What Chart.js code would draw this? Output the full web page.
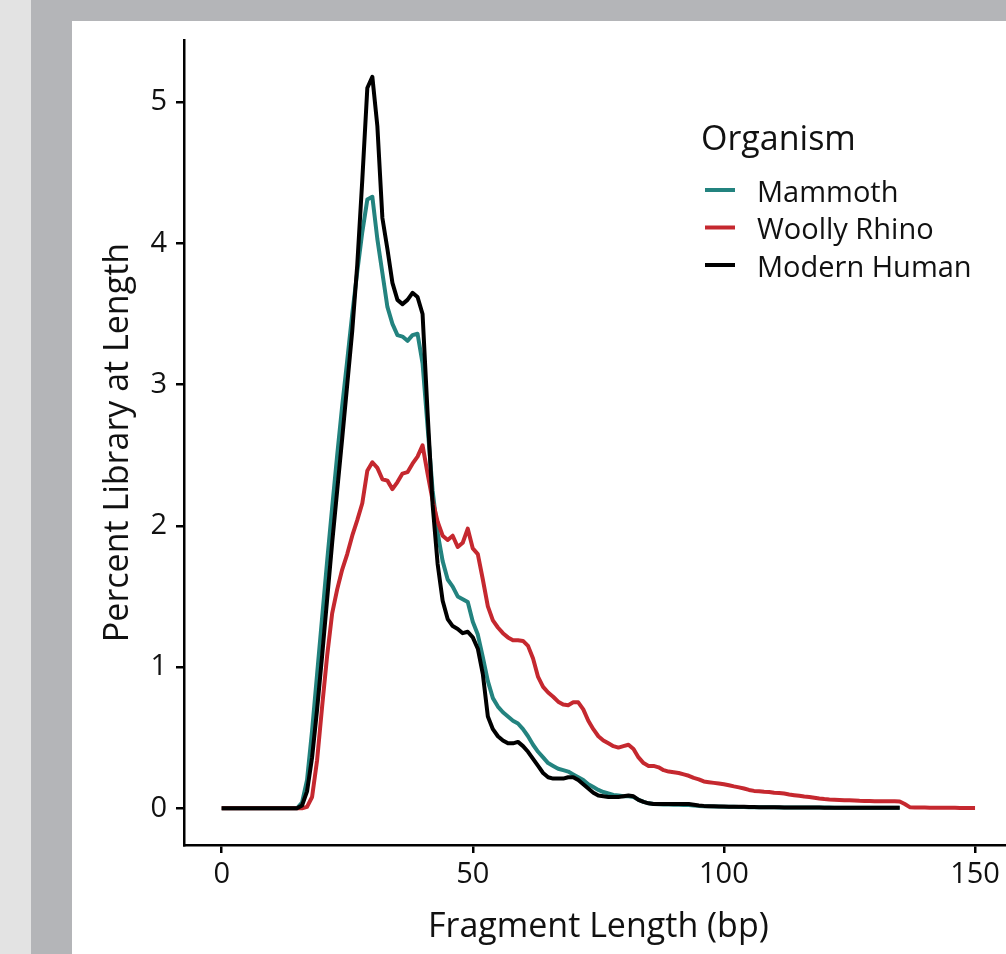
<!DOCTYPE html>
<html>
<head>
<meta charset="utf-8">
<title>Fragment length distribution</title>
<script src="https://cdn.jsdelivr.net/npm/chart.js@4.4.1/dist/chart.umd.min.js"></script>
<style>
  html, body { margin: 0; padding: 0; width: 1006px; height: 954px; overflow: hidden; background: #b4b5b8; }
  #strip { position: absolute; left: 0; top: 0; width: 31px; height: 954px; background: #e3e3e3; }
  #panel { position: absolute; left: 72px; top: 21px; width: 960px; height: 933px; background: #fff; }
  canvas { display: block; }
</style>
</head>
<body>
<div id="strip"></div>
<div id="panel"><canvas id="fragChart" width="960" height="933"></canvas></div>
<script>
// fragment length (bp) on the x axis
const fragmentLengths = [
  0, 1, 2, 3, 4, 5, 6, 7, 8, 9, 10, 11, 12, 13, 14, 15, 16, 17, 18, 19,
  20, 21, 22, 23, 24, 25, 26, 27, 28, 29, 30, 31, 32, 33, 34, 35, 36, 37, 38, 39,
  40, 41, 42, 43, 44, 45, 46, 47, 48, 49, 50, 51, 52, 53, 54, 55, 56, 57, 58, 59,
  60, 61, 62, 63, 64, 65, 66, 67, 68, 69, 70, 71, 72, 73, 74, 75, 76, 77, 78, 79,
  80, 81, 82, 83, 84, 85, 86, 87, 88, 89, 90, 91, 92, 93, 94, 95, 96, 97, 98, 99,
  100, 101, 102, 103, 104, 105, 106, 107, 108, 109, 110, 111, 112, 113, 114, 115, 116, 117, 118, 119,
  120, 121, 122, 123, 124, 125, 126, 127, 128, 129, 130, 131, 132, 133, 134, 135, 136, 137, 138, 139,
  140, 141, 142, 143, 144, 145, 146, 147, 148, 149, 150
];

// percent of library at each length (0..135)
const mammothPct = [
  0, 0, 0, 0, 0, 0, 0, 0, 0, 0, 0, 0, 0, 0, 0, 0, 0.04, 0.20, 0.55, 0.95,
  1.35, 1.75, 2.13, 2.50, 2.85, 3.17, 3.50, 3.80, 4.08, 4.31, 4.33, 4.03, 3.79, 3.55, 3.43, 3.35, 3.34, 3.31, 3.35, 3.36,
  3.15, 2.70, 2.25, 1.95, 1.75, 1.62, 1.57, 1.50, 1.48, 1.46, 1.32, 1.23, 1.07, 0.90, 0.78, 0.72, 0.68, 0.65, 0.62, 0.60,
  0.56, 0.51, 0.45, 0.40, 0.36, 0.32, 0.30, 0.28, 0.27, 0.26, 0.24, 0.22, 0.20, 0.17, 0.15, 0.13, 0.115, 0.105, 0.095, 0.09,
  0.085, 0.085, 0.08, 0.06, 0.045, 0.035, 0.03, 0.028, 0.027, 0.026, 0.025, 0.025, 0.024, 0.023, 0.02, 0.017, 0.015, 0.014, 0.013, 0.012,
  0.011, 0.010, 0.010, 0.009, 0.009, 0.008, 0.008, 0.008, 0.007, 0.007, 0.007, 0.006, 0.006, 0.006, 0.006, 0.006, 0.005, 0.005, 0.005, 0.005,
  0.005, 0.005, 0.004, 0.004, 0.004, 0.004, 0.004, 0.004, 0.003, 0.003, 0.003, 0.003, 0.003, 0.003, 0.003, 0.003
];

// percent of library at each length (0..150)
const rhinoPct = [
  0, 0, 0, 0, 0, 0, 0, 0, 0, 0, 0, 0, 0, 0, 0, 0, 0, 0.01, 0.08, 0.34,
  0.72, 1.08, 1.38, 1.55, 1.69, 1.80, 1.93, 2.04, 2.16, 2.39, 2.45, 2.41, 2.33, 2.32, 2.26, 2.31, 2.37, 2.38, 2.44, 2.49,
  2.57, 2.37, 2.18, 2.03, 1.93, 1.90, 1.93, 1.85, 1.88, 1.98, 1.84, 1.80, 1.62, 1.43, 1.33, 1.28, 1.24, 1.21, 1.19, 1.19,
  1.185, 1.15, 1.06, 0.93, 0.86, 0.82, 0.79, 0.755, 0.735, 0.73, 0.75, 0.75, 0.70, 0.62, 0.56, 0.51, 0.48, 0.46, 0.44, 0.43,
  0.44, 0.45, 0.42, 0.36, 0.32, 0.30, 0.30, 0.29, 0.27, 0.26, 0.255, 0.25, 0.24, 0.23, 0.215, 0.205, 0.19, 0.185, 0.18, 0.175,
  0.17, 0.163, 0.155, 0.148, 0.14, 0.13, 0.123, 0.12, 0.117, 0.115, 0.11, 0.108, 0.104, 0.098, 0.093, 0.088, 0.083, 0.08, 0.075, 0.07,
  0.066, 0.063, 0.061, 0.059, 0.057, 0.056, 0.055, 0.053, 0.052, 0.051, 0.05, 0.05, 0.05, 0.05, 0.05, 0.048, 0.03, 0.008, 0.006, 0.005,
  0.005, 0.004, 0.004, 0.004, 0.003, 0.003, 0.003, 0.002, 0.002, 0.002, 0.002
];

// percent of library at each length (0..135)
const humanPct = [
  0, 0, 0, 0, 0, 0, 0, 0, 0, 0, 0, 0, 0, 0, 0, 0, 0.02, 0.12, 0.36, 0.70,
  1.08, 1.48, 1.88, 2.25, 2.62, 3.00, 3.38, 3.85, 4.45, 5.10, 5.18, 4.83, 4.18, 3.96, 3.72, 3.60, 3.57, 3.60, 3.65, 3.62,
  3.50, 2.80, 2.15, 1.73, 1.47, 1.34, 1.29, 1.27, 1.24, 1.25, 1.21, 1.13, 0.95, 0.65, 0.56, 0.51, 0.48, 0.46, 0.46, 0.47,
  0.44, 0.40, 0.35, 0.30, 0.25, 0.22, 0.21, 0.21, 0.21, 0.22, 0.22, 0.20, 0.17, 0.14, 0.11, 0.09, 0.085, 0.08, 0.08, 0.08,
  0.085, 0.09, 0.085, 0.06, 0.045, 0.035, 0.03, 0.03, 0.03, 0.03, 0.03, 0.03, 0.03, 0.03, 0.025, 0.02, 0.017, 0.015, 0.014, 0.013,
  0.012, 0.011, 0.010, 0.010, 0.010, 0.009, 0.009, 0.008, 0.008, 0.008, 0.007, 0.007, 0.006, 0.006, 0.006, 0.006, 0.005, 0.005, 0.005, 0.005,
  0.004, 0.004, 0.004, 0.004, 0.004, 0.004, 0.004, 0.003, 0.003, 0.003, 0.003, 0.003, 0.003, 0.003, 0.003, 0.003
];

const seriesNames = ["Mammoth", "Woolly Rhino", "Modern Human"];
const seriesColors = ["#23837f", "#c5282f", "#000000"];
const xTicks = [0, 50, 100, 150];
const yTicks = [0, 1, 2, 3, 4, 5];

const FONT = "'Open Sans', Lato, sans-serif";
const INK = "#111111";
const LINE_W = 4;

// legend block in the top-right of the plot (ggplot style)
const legendPlugin = {
  id: "organismLegend",
  afterDraw(chart) {
    const ctx = chart.ctx;
    ctx.save();
    ctx.fillStyle = INK;
    ctx.textBaseline = "alphabetic";
    ctx.textAlign = "left";
    ctx.font = "34px " + FONT;
    ctx.fillText("Organism", 629, 129);
    ctx.font = "29px " + FONT;
    chart.data.datasets.forEach((ds, i) => {
      const y = 169 + i * 37.5;
      ctx.strokeStyle = ds.borderColor;
      ctx.lineWidth = LINE_W;
      ctx.beginPath();
      ctx.moveTo(633, y);
      ctx.lineTo(663, y);
      ctx.stroke();
      ctx.fillStyle = INK;
      ctx.fillText(ds.label, 685, y + 11.7);
    });
    ctx.restore();
  }
};

const lineSet = (i, values, order) => ({
  label: seriesNames[i],
  data: values,
  borderColor: seriesColors[i],
  backgroundColor: seriesColors[i],
  borderWidth: LINE_W,
  pointRadius: 0,
  tension: 0,
  fill: false,
  borderJoinStyle: "round",
  order: order
});

new Chart(document.getElementById("fragChart"), {
  type: "line",
  data: {
    labels: fragmentLengths,
    datasets: [
      lineSet(0, mammothPct, 2),
      lineSet(1, rhinoPct, 1),
      lineSet(2, humanPct, 0)
    ]
  },
  plugins: [legendPlugin],
  options: {
    responsive: false,
    animation: false,
    layout: { padding: { top: 19, right: 19.3, left: 0, bottom: 0 } },
    plugins: { legend: { display: false }, tooltip: { enabled: false } },
    scales: {
      x: {
        type: "linear",
        min: -7.5,
        max: 157.5,
        afterBuildTicks: (s) => { s.ticks = xTicks.map((v) => ({ value: v })); },
        afterFit: (s) => { s.height = 109; s.paddingLeft = 0; s.paddingRight = 0; },
        ticks: { color: INK, font: { family: FONT, size: 29 }, padding: 4.6 },
        grid: { drawOnChartArea: false, drawTicks: true, tickLength: 8, color: "#000", lineWidth: 2.5 },
        border: { display: true, color: "#000", width: 2.5 },
        title: {
          display: true,
          text: "Fragment Length (bp)",
          color: INK,
          font: { family: FONT, size: 34 },
          padding: { top: 0, bottom: 6.6 }
        }
      },
      y: {
        min: -0.26,
        max: 5.44,
        afterBuildTicks: (s) => { s.ticks = yTicks.map((v) => ({ value: v })); },
        afterFit: (s) => { s.width = 112; s.paddingTop = 0; s.paddingBottom = 0; },
        ticks: { color: INK, font: { family: FONT, size: 29 }, padding: 9 },
        grid: { drawOnChartArea: false, drawTicks: true, tickLength: 8, color: "#000", lineWidth: 2.5 },
        border: { display: true, color: "#000", width: 2.5 },
        title: {
          display: true,
          text: "Percent Library at Length",
          color: INK,
          font: { family: FONT, size: 34 },
          padding: { top: 25.6, bottom: 0 }
        }
      }
    }
  }
});
</script>
</body>
</html>
